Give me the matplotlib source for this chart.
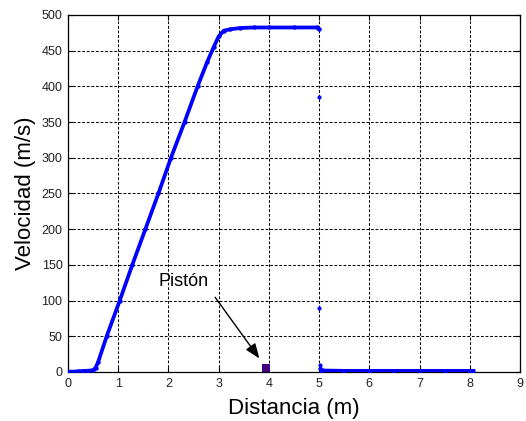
import matplotlib
matplotlib.use("Agg")
import matplotlib.pyplot as plt

# ---- data ----
curve_x = [0.0, 0.1, 0.2, 0.3, 0.4, 0.5, 0.55, 0.6, 0.77, 1.03, 1.28, 1.54, 1.80,
           2.05, 2.32, 2.58, 2.77, 2.90, 3.00, 3.10, 3.23, 3.43, 3.7, 4.0, 4.5, 4.95, 5.0]
curve_v = [0.5, 0.5, 0.8, 1.5, 1.8, 2.5, 6, 14, 50, 100, 150, 200, 250,
           300, 350, 400, 434, 455, 470, 478, 480, 481.8, 482.5, 482.5, 482.5, 482.5, 480]
drop_x = [5.0, 5.0, 5.02]
drop_v = [385.5, 89, 10.5]
rest_x = [5.03, 5.06, 5.5, 6.0, 6.5, 7.0, 7.5, 8.0, 8.07]
rest_v = [4, 2, 1.5, 1.5, 1.5, 1.5, 1.5, 1.5, 1.5]
piston_x = [3.94]
piston_v = [5]

xticks = list(range(0, 10))
yticks = list(range(0, 501, 50))

plt.rcParams['font.family'] = ['Liberation Sans', 'DejaVu Sans']
plt.rcParams['lines.scale_dashes'] = False

fig = plt.figure(figsize=(5.26, 4.21), dpi=100)
ax = fig.add_axes([68/526, 49/421, 452/526, 357/421])

blue = '#0000ff'
ax.plot(curve_x, curve_v, '-', color=blue, lw=2.7, marker='o', ms=3.2, mew=0, zorder=3)
ax.plot(rest_x, rest_v, '-', color=blue, lw=2.8, marker='o', ms=3.0, mew=0, zorder=3)
ax.plot(drop_x, drop_v, 'o', color=blue, ms=3.0, mew=0, zorder=3)
ax.plot(piston_x, piston_v, 's', color='#400080', ms=5.5, mew=0, zorder=4)

ax.text(2.3, 127, 'Pistón', fontsize=13, ha='center', va='center')
ax.annotate('', xy=(3.81, 19), xytext=(2.93, 104.6),
            arrowprops=dict(arrowstyle='-|>,head_length=0.9,head_width=0.35',
                            color='black', lw=1.0, shrinkA=0, shrinkB=0))

ax.set_xlim(0, 9)
ax.set_ylim(0, 500)
ax.set_xticks(xticks)
ax.set_yticks(yticks)
ax.grid(True, color='black', linestyle=(0, (2.0, 1.3)), linewidth=0.75)
ax.tick_params(direction='in', length=3.5, width=0.8, top=True, right=True,
               labelsize=9, pad=4, colors='black', labelcolor='#222222')
for s in ax.spines.values():
    s.set_linewidth(0.9)
    s.set_color('black')

ax.set_xlabel('Distancia (m)', fontsize=16, labelpad=6)
ax.set_ylabel('Velocidad (m/s)', fontsize=16, labelpad=4)

fig.savefig('out.png', dpi=100)
